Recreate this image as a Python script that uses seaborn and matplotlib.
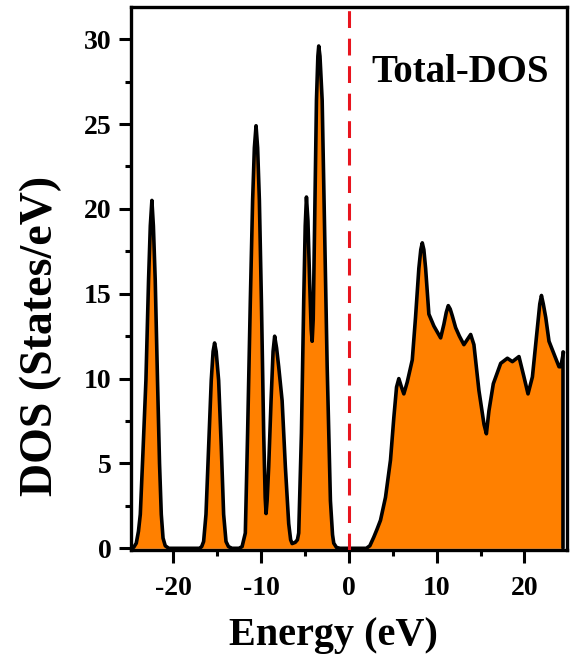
import matplotlib
matplotlib.use("Agg")
import matplotlib.pyplot as plt
from matplotlib.ticker import MultipleLocator
import seaborn as sns
import pandas as pd

# energy (eV) and total DOS (states/eV)
energy = [
    -24.8, -24.5, -24.2, -23.95, -23.74, -23.45, -23.1, -22.8, -22.6, -22.42,
    -22.25, -22.04, -21.78, -21.55, -21.35, -21.15, -20.9, -20.5,
    -17.0, -16.75, -16.53, -16.26, -15.96, -15.66, -15.45, -15.28, -15.1, -14.82,
    -14.52, -14.25, -13.98, -13.7, -13.3,
    -12.5, -12.15, -11.78, -11.52, -11.21, -10.95, -10.75, -10.56, -10.38, -10.18,
    -9.95, -9.69, -9.52, -9.42, -9.3, -9.12, -8.85, -8.62, -8.44, -8.22,
    -7.98, -7.59, -7.22, -6.84, -6.62, -6.45, -6.1, -5.85, -5.70, -5.39,
    -5.13, -4.96, -4.82, -4.65, -4.45, -4.28, -4.17, -4.05, -3.91, -3.68,
    -3.52, -3.42, -3.28, -3.03, -2.74, -2.46, -2.09, -1.85, -1.71, -1.4,
    -1.0, 2.0, 2.4, 2.85, 3.2, 3.61, 4.18, 4.75, 5.13, 5.44,
    5.7, 6.0, 6.27, 6.66, 7.23, 7.6, 7.98, 8.2, 8.37, 8.55, 8.75, 9.12,
    9.69, 10.46, 10.83, 11.1, 11.33, 11.55, 11.79, 12.17, 12.6, 13.11, 13.5, 13.88,
    14.25, 14.82, 15.4, 15.67, 15.96, 16.46, 17.3, 18.06, 18.63, 19.38,
    19.95, 20.41, 20.91, 21.4, 21.75, 21.94, 22.15, 22.43, 22.8, 23.37, 23.94, 24.14,
    24.45,
]
dos = [
    0.0, 0.05, 0.3, 1.0, 2.0, 5.5, 9.9, 15.8, 19.0, 20.5,
    19.0, 15.8, 9.9, 5.0, 2.0, 0.6, 0.15, 0.0,
    0.0, 0.1, 0.4, 2.0, 6.0, 9.9, 11.6, 12.1, 11.6, 9.9,
    6.0, 2.0, 0.4, 0.1, 0.0,
    0.0, 0.1, 0.9, 6.8, 14.6, 20.5, 23.6, 24.9, 23.6, 20.5,
    14.6, 6.8, 3.0, 2.05, 2.8, 4.8, 8.7, 11.6, 12.5, 11.8,
    10.7, 8.7, 4.8, 1.45, 0.5, 0.28, 0.35, 0.5, 0.9, 6.8,
    14.6, 19.0, 20.7, 19.3, 15.6, 12.9, 12.2, 13.5, 18.5, 26.4,
    29.0, 29.6, 29.0, 26.4, 18.5, 10.7, 2.8, 0.8, 0.3, 0.05,
    0.0, 0.0, 0.15, 0.66, 1.1, 1.65, 3.0, 5.2, 7.7, 9.5,
    10.0, 9.5, 9.1, 9.8, 11.1, 13.6, 16.5, 17.6, 18.0, 17.6, 16.5, 13.8,
    13.1, 12.4, 13.2, 13.9, 14.3, 14.1, 13.7, 13.0, 12.5, 12.0, 12.3, 12.6,
    12.0, 9.3, 7.3, 6.75, 8.1, 9.7, 10.9, 11.2, 11.0, 11.3,
    10.1, 9.1, 10.1, 12.6, 14.4, 14.9, 14.4, 13.6, 12.2, 11.45, 10.7, 10.7,
    11.55,
]
x_ticks = [-20, -10, 0, 10, 20]
y_ticks = [0, 5, 10, 15, 20, 25, 30]

df = pd.DataFrame({"Energy": energy, "DOS": dos})

sns.set_theme(style="ticks")
plt.rcParams["font.family"] = ["Liberation Serif", "DejaVu Serif"]
plt.rcParams["font.weight"] = "bold"
plt.rcParams["axes.unicode_minus"] = False
plt.rcParams["text.color"] = "black"
plt.rcParams["axes.edgecolor"] = "black"
plt.rcParams["axes.labelcolor"] = "black"
plt.rcParams["xtick.color"] = "black"
plt.rcParams["ytick.color"] = "black"

fig = plt.figure(figsize=(5.71, 6.59), dpi=100)
ax = fig.add_axes([0.2294, 0.1654, 0.7636, 0.824])

ax.fill_between(df["Energy"], df["DOS"], 0, color="#ff8000", linewidth=0, zorder=1)
sns.lineplot(data=df, x="Energy", y="DOS", color="black", linewidth=2.6, ax=ax, zorder=2,
             solid_joinstyle="round", solid_capstyle="round")
# closing edge at the end of the data
ax.plot([energy[-1], energy[-1]], [0, dos[-1]], color="black", linewidth=2.6, zorder=2)
ax.axvline(0, color="#e8141e", linestyle=(0, (5.5, 3.5)), linewidth=2.2, zorder=3)

ax.set_xlim(-24.8, 24.85)
ax.set_ylim(-0.1, 31.9)
ax.set_xticks(x_ticks)
ax.set_yticks(y_ticks)
ax.xaxis.set_minor_locator(MultipleLocator(5))
ax.yaxis.set_minor_locator(MultipleLocator(2.5))
ax.tick_params(which="major", direction="out", length=9, width=2.2, labelsize=20)
ax.tick_params(which="minor", direction="out", length=4.5, width=2.2)
ax.tick_params(axis="x", which="major", pad=10)
ax.tick_params(axis="y", which="major", pad=5)
ax.tick_params(top=False, right=False)
for lab in ax.get_xticklabels() + ax.get_yticklabels():
    lab.set_fontweight("bold")
for sp in ax.spines.values():
    sp.set_linewidth(2.4)
    sp.set_visible(True)

ax.set_xlabel("Energy (eV)", fontsize=29, fontweight="bold")
ax.xaxis.label.set_va("center")
ax.xaxis.set_label_coords(0.464, -0.158)
ax.set_ylabel("DOS (States/eV)", fontsize=33, fontweight="bold")
ax.yaxis.label.set_va("center")
ax.yaxis.set_label_coords(-0.207, 0.394)
ax.text(0.755, 0.880, "Total-DOS", transform=ax.transAxes, ha="center", va="center",
        fontsize=28, fontweight="bold")

fig.savefig("out.png", dpi=100)
